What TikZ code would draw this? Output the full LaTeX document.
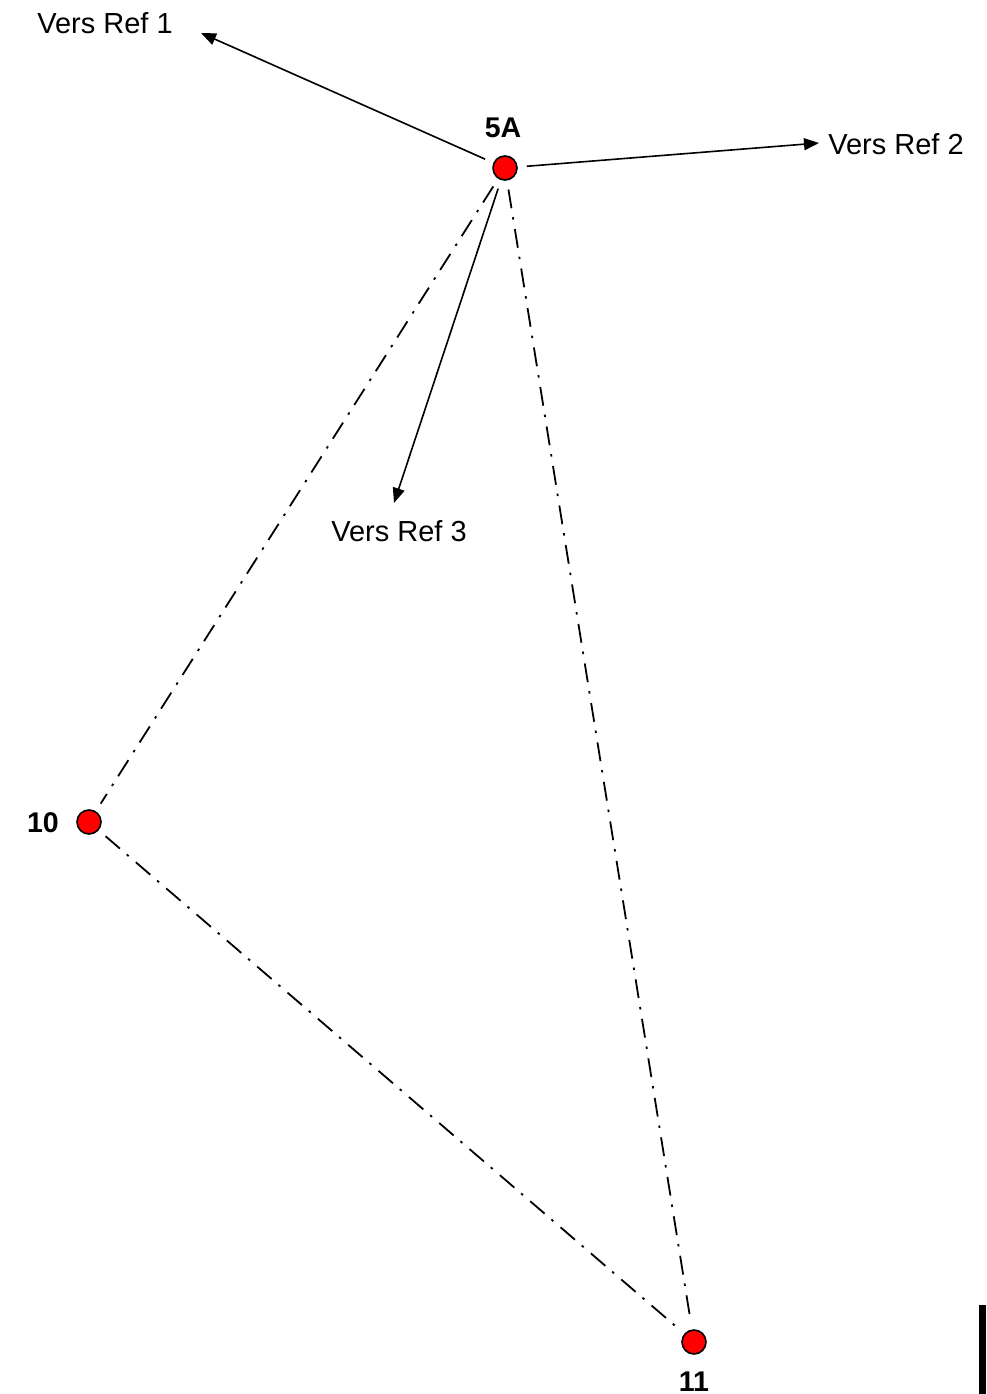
\documentclass[tikz,border=0pt]{standalone}
\usepackage{fontspec}
\setmainfont{Liberation Sans}
\usetikzlibrary{arrows.meta}
\begin{document}
\begin{tikzpicture}[x=1pt,y=-1pt,
  pt/.style={circle,draw=black,fill=red,line width=1.6pt,minimum size=24pt,inner sep=0pt},
  lbl/.style={font=\fontsize{28.5}{31}\selectfont\bfseries,inner sep=0pt},
  ref/.style={font=\fontsize{29}{32}\selectfont,inner sep=0pt},
  arr/.style={line width=1.6pt,-{Triangle[length=15pt,width=12pt]},shorten <=9pt},
  dd/.style={line width=1.8pt,dash pattern=on 19pt off 9pt on 2.5pt off 9.5pt,shorten <=9pt,shorten >=9pt}]
\useasboundingbox (0,0) rectangle (986,1394);
\node[pt] (p5A) at (505,168) {};
\node[pt] (p10) at (89,822) {};
\node[pt] (p11) at (694,1342) {};
\node[lbl] (l5A) at (503,128) {5A};
\node[lbl] (l10) at (43,823) {10};
\node[lbl] (l11) at (694,1382) {11};
\node[ref] (r1) at (105,23) {Vers Ref 1};
\node[ref] (r2) at (896,144) {Vers Ref 2};
\node[ref] (r3) at (399,531) {Vers Ref 3};
\coordinate (t1) at (201,33);
\coordinate (t2) at (819,143);
\coordinate (t3) at (394,503);
\draw[arr] (p5A) -- (t1);
\draw[arr] (p5A) -- (t2);
\draw[arr] (p5A) -- (t3);
\draw[dd] (p5A) -- (p10);
\draw[dd] (p5A) -- (p11);
\draw[dd] (p10) -- (p11);
\fill[black] (979,1305) rectangle (986,1394);
\end{tikzpicture}
\end{document}
